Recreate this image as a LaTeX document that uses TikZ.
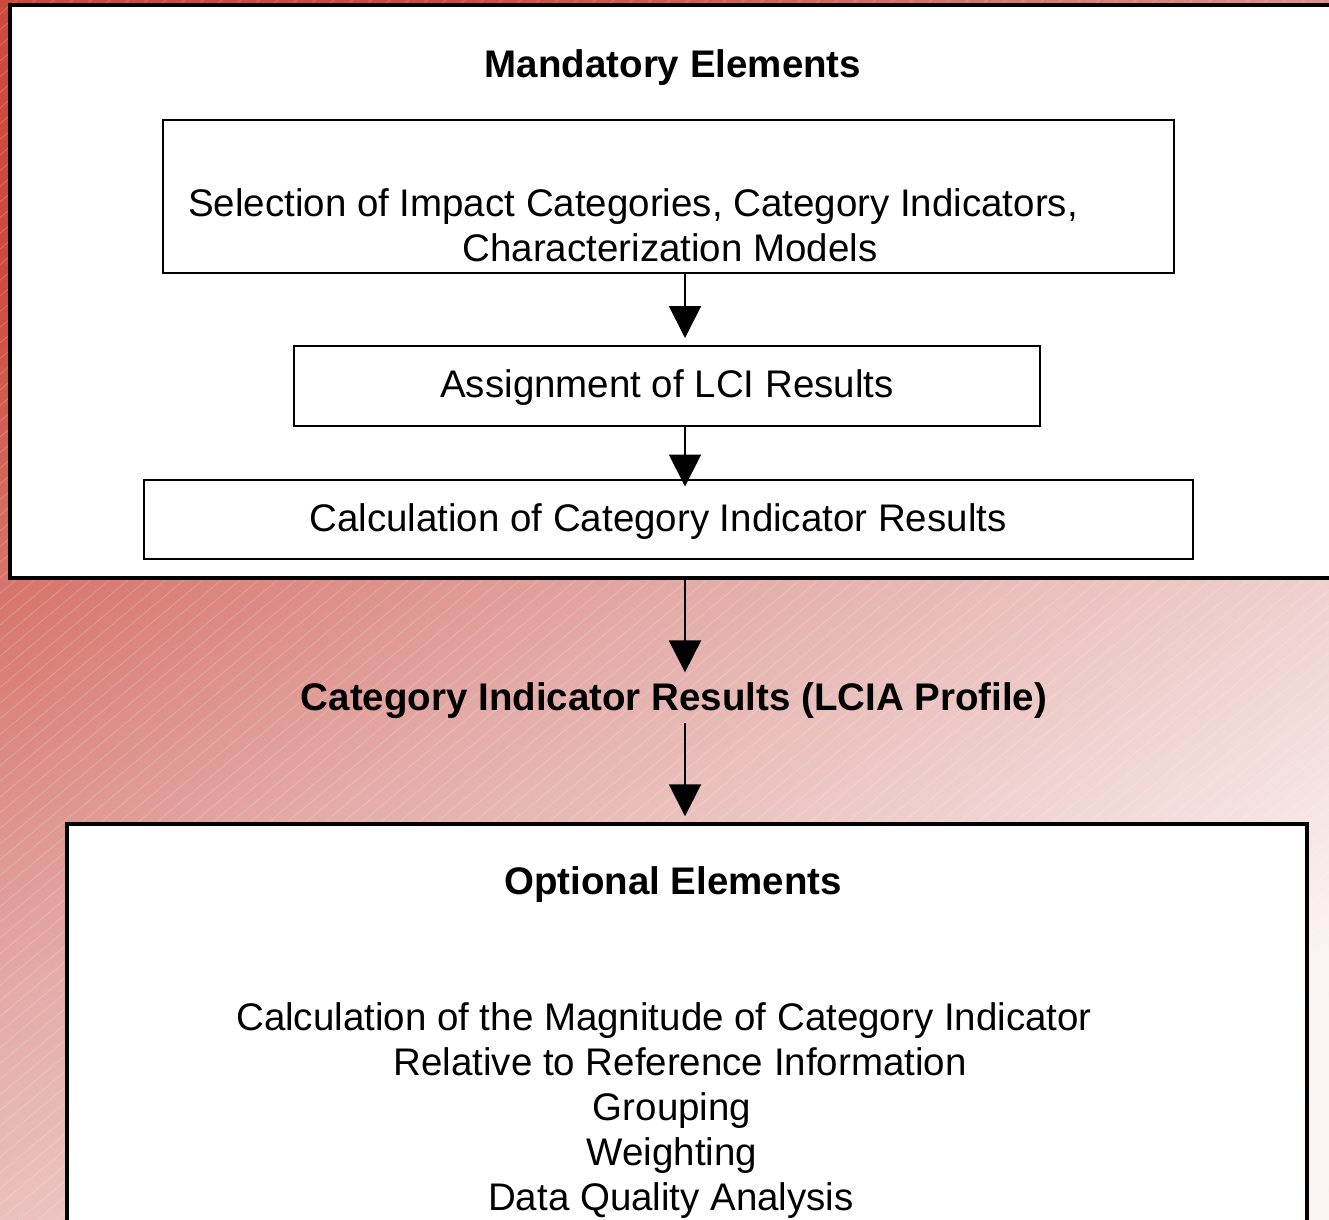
\documentclass[tikz,border=0pt]{standalone}
\usepackage{fontspec}
\setmainfont{Liberation Sans}
\usepackage{tikz}
\usetikzlibrary{positioning,fit,calc,arrows.meta,patterns.meta}

\definecolor{bgred}{RGB}{205,75,62}
\definecolor{bgrose}{RGB}{228,172,168}
\definecolor{bgpale}{RGB}{250,243,242}
\newcommand{\diagfont}{\fontsize{21.9pt}{26.2pt}\selectfont}

\begin{document}
\begin{tikzpicture}[x=0.02cm,y=-0.02cm,
  panel/.style={draw,line width=0.07cm,fill=white,inner sep=0pt},
  stepbox/.style={draw,line width=0.04cm,fill=white,inner sep=0pt},
  txt/.style={font=\diagfont,inner sep=0pt,anchor=base},
  head/.style={font=\diagfont\bfseries,inner sep=0pt,anchor=base},
  flow/.style={-{Triangle[width=0.64cm,length=0.64cm]},line width=0.04cm}
]
\useasboundingbox (0,0) rectangle (1329,1220);
\clip (0,0) rectangle (1329,1220);
% background
\shade[top color=bgred,bottom color=bgpale,middle color=bgrose,shading angle=31]
  (0,0) rectangle (1329,1220);
\fill[pattern={Lines[angle=40,distance=0.24cm,line width=0.015cm]},pattern color=white,opacity=0.2]
  (0,0) rectangle (1329,1220);

\coordinate (ax) at (685,0);
% mandatory part
\node[panel,fit={(10,5) (1345,578)}] (mand) {};
\node[head] (mandt) at (673,78) {Mandatory Elements};
\node[stepbox,fit={(163,120) (1174,273)}] (sel) {};
\node[txt] (sel1) at (633,216) {Selection of Impact Categories, Category Indicators,};
\node[txt] (sel2) at (670,261) {Characterization Models};
\node[stepbox,fit={(294,346) (1040,426)}] (assign) {};
\node[txt] (assignt) at (667,397.6) {Assignment of LCI Results};
\node[stepbox,fit={(144,480) (1193,559)}] (calc) {};
\node[txt] (calct) at (658,531.6) {Calculation of Category Indicator Results};

% profile
\node[head] (prof) at (674,710.6) {Category Indicator Results (LCIA Profile)};

% optional part
\node[panel,fit={(67,824) (1307,1260)}] (opt) {};
\node[head] (optt) at (673,894.6) {Optional Elements};
\foreach \x/\t [count=\i] in {664/Calculation of the Magnitude of Category Indicator,
    680/Relative to Reference Information, 672/Grouping, 672/Weighting,
    671/Data Quality Analysis}
  \node[txt] (opt\i) at (\x,985.6+45*\i) {\t};

% arrows
\draw[flow,shorten >=0.14cm] (sel.south -| ax) -- (assign.north -| ax);
\draw[flow,shorten >=-0.15cm] (assign.south -| ax) -- (calc.north -| ax);
\draw[flow,shorten >=0.2cm] (mand.south -| ax) -- (prof.north -| ax);
\draw[flow,shorten <=0.07cm,shorten >=0.12cm] (prof.south -| ax) -- (opt.north -| ax);
\end{tikzpicture}
\end{document}
